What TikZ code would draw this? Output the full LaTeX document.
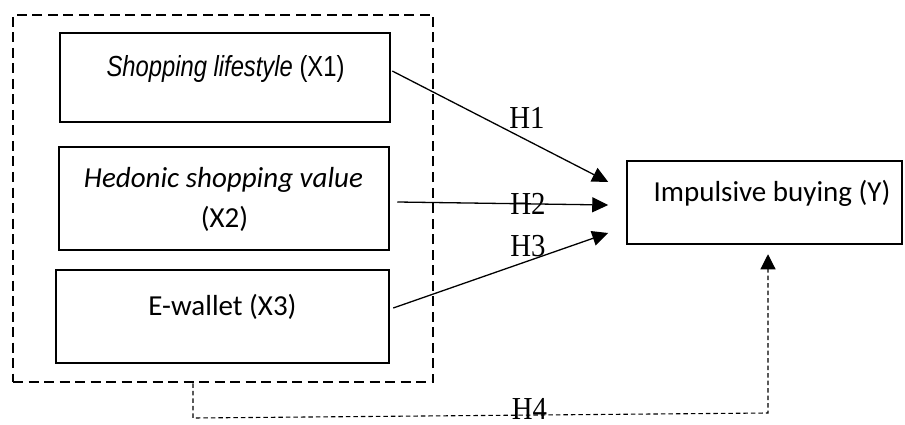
\documentclass[tikz,border=0pt]{standalone}
\usepackage{fontspec}
\usetikzlibrary{arrows.meta,calc}
\newfontfamily\arialn[FakeStretch=0.82]{Liberation Sans}
\newfontfamily\calfont{Carlito}
\newfontfamily\tmsfont[FakeStretch=0.9]{Liberation Serif}
\begin{document}
\begin{tikzpicture}[x=1pt,y=-1pt,
  box/.style={draw, line width=2.5pt, inner sep=0pt},
  grpbox/.style={draw, line width=2.8pt, dash pattern=on 10pt off 5.5pt, inner sep=0pt},
  txt/.style={anchor=base, inner sep=0pt},
  arialtxt/.style={txt, font=\arialn\fontsize{29}{34}\selectfont},
  caltxt/.style={txt, font=\calfont\fontsize{29}{34}\selectfont},
  hlab/.style={txt, font=\tmsfont\fontsize{32}{36}\selectfont},
  arr/.style={line width=1.3pt, -{Triangle[length=16pt,width=15pt]}},
  dasharr/.style={line width=1.1pt, dash pattern=on 4.5pt off 3pt, -{Triangle[length=15pt,width=15pt]}}
]
\useasboundingbox (0,0) rectangle (905,425);

% group box and variable boxes
\node[grpbox, minimum width=420pt, minimum height=367pt] (grp) at (223,198.5) {};
\node[box, minimum width=330pt, minimum height=89pt] (X1) at (225,77.5) {};
\node[box, minimum width=330pt, minimum height=103pt] (X2) at (224,198.5) {};
\node[box, minimum width=333pt, minimum height=93pt] (X3) at (222.5,316.5) {};
\node[box, minimum width=275pt, minimum height=83pt] (Y) at (764.5,202.5) {};

% texts
\node[arialtxt] (t1) at (225.5,77) {\textit{Shopping lifestyle} (X1)};
\node[caltxt] (t2a) at (223.5,187) {\textit{Hedonic shopping value}};
\node[caltxt] (t2b) at (224.5,227) {(X2)};
\node[caltxt] (t3) at (222.5,315) {E-wallet (X3)};
\node[caltxt] (ty) at (772,201) {Impulsive buying (Y)};

% arrows
\coordinate (e1) at ($(Y.west)+(-17.5,-20.5)$);
\coordinate (e2) at ($(Y.west)+(-17.5,2.5)$);
\coordinate (e3) at ($(Y.west)+(-17.5,30.5)$);
\draw[arr] ($(X1.east)+(1,-6.5)$) -- (e1);
\draw[arr] ($(X2.east)+(7,3.5)$) -- (e2);
\draw[arr] ($(X3.east)+(3,-8.5)$) -- (e3);

\node[hlab] (h1) at (527,129) {H1};
\node[hlab] (h2) at (528,214) {H2};
\node[hlab] (h3) at (528,256) {H3};

% H4
\coordinate (c1) at (193,418);
\coordinate (c2) at (768,413);
\coordinate (c3) at ($(Y.south -| c2)+(0,9)$);
\draw[dasharr] (grp.south -| c1) -- (c1) -- (c2) -- (c3);
\node[hlab] (h4) at (529.5,419) {H4};
\end{tikzpicture}
\end{document}
